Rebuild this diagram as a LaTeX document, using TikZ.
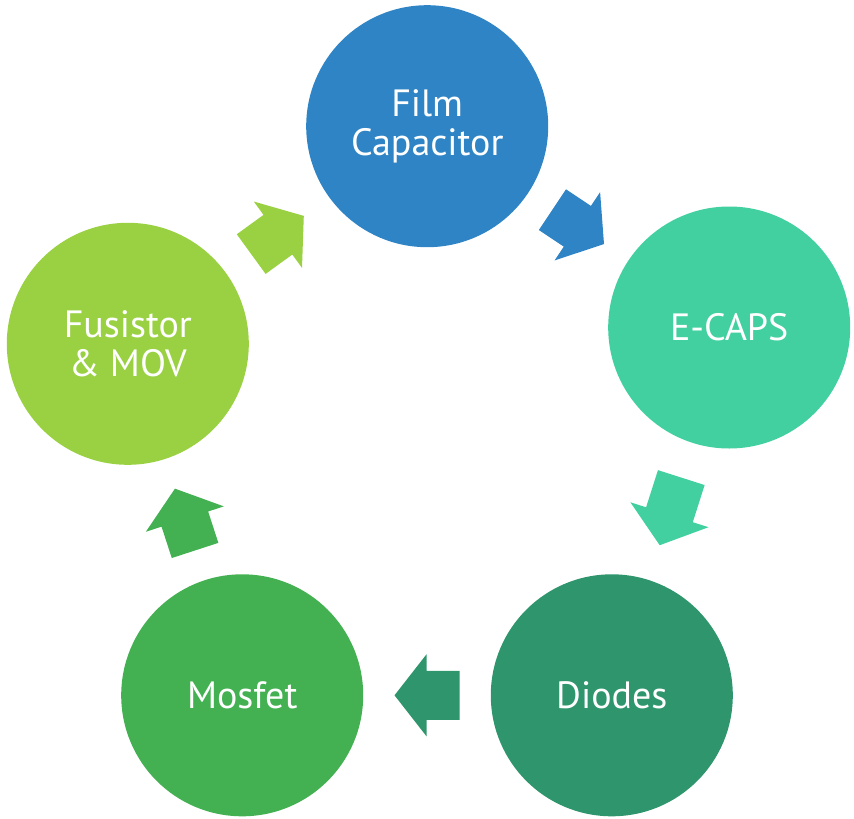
\documentclass[tikz,border=0pt]{standalone}
\usepackage{fontspec}
\setmainfont{PT Sans}
\usetikzlibrary{calc}
\definecolor{cfilm}{HTML}{2E84C4}
\definecolor{cecaps}{HTML}{43D0A0}
\definecolor{cdiodes}{HTML}{2E956C}
\definecolor{cmosfet}{HTML}{43B052}
\definecolor{cfusistor}{HTML}{99D142}
% #1 from node, #2 to node, #3 angle, #4 length, #5 colour
\newcommand\blockarrow[5]{%
  \fill[#5, shift={($(#1)!0.5!(#2)$)}, rotate=#3]
    ({-#4/2}, 24.5) -- ({#4/2-32}, 24.5) -- ({#4/2-32}, 41) -- ({#4/2}, 0)
    -- ({#4/2-32}, -41) -- ({#4/2-32}, -24.5) -- ({-#4/2}, -24.5) -- cycle;
}
\begin{document}
\begin{tikzpicture}[x=1pt,y=1pt,
  disc/.style={circle, minimum size=242pt, inner sep=0pt, text=white,
    align=center, font=\fontsize{38}{38.5}\selectfont}]
\useasboundingbox (0,0) rectangle (854,-819);
\node[disc, fill=cfilm] (film) at (427.2,-126.2) {Film\\Capacitor};
\node[disc, fill=cecaps] (ecaps) at (729.2,-327.5) {E-CAPS};
\node[disc, fill=cdiodes] (diodes) at (611.8,-695.3) {Diodes};
\node[disc, fill=cmosfet] (mosfet) at (242.2,-695.3) {Mosfet};
\node[disc, fill=cfusistor] (fusistor) at (127.8,-343.8) {Fusistor\\\& MOV};
\blockarrow{film}{ecaps}{-33.68}{62}{cfilm}
\blockarrow{ecaps}{diodes}{-107.7}{71}{cecaps}
\blockarrow{diodes}{mosfet}{180}{65}{cdiodes}
\blockarrow{mosfet}{fusistor}{108.03}{65}{cmosfet}
\blockarrow{fusistor}{film}{36.0}{65}{cfusistor}
\end{tikzpicture}
\end{document}
